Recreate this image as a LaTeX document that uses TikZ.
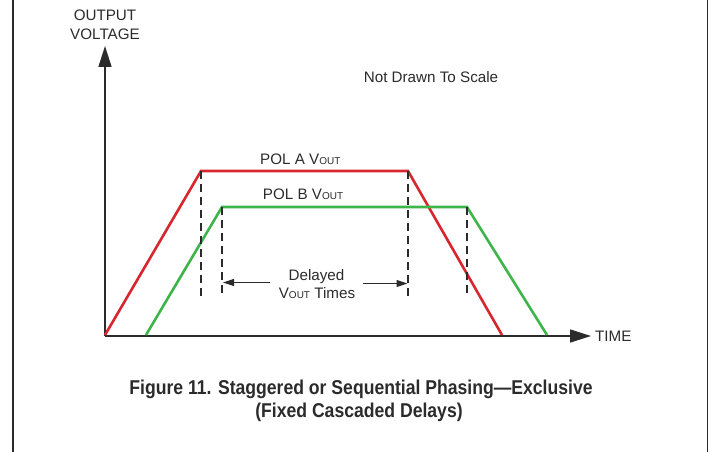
\documentclass[tikz,border=0pt]{standalone}
\usepackage{fontspec}
\setmainfont{Liberation Sans}
\newfontfamily\capfont[FakeStretch=0.88]{Liberation Sans}
\usetikzlibrary{arrows.meta}
\definecolor{polred}{HTML}{D7262D}
\definecolor{polgreen}{HTML}{3DB54A}
\definecolor{axisgray}{HTML}{2B2B2B}
\newcommand{\vout}{V{\fontsize{10}{11}\selectfont OUT}}
\tikzset{
  frameline/.style={draw=axisgray, line width=1.6pt},
  axisline/.style={draw=axisgray, line width=1.6pt, -{Triangle[length=21pt,width=13pt]}},
  redtrace/.style={draw=polred, line width=2.6pt, line join=miter},
  greentrace/.style={draw=polgreen, line width=2.6pt, line join=miter},
  dashline/.style={draw=axisgray, line width=1.3pt, dash pattern=on 8pt off 5pt},
  dimarrow/.style={draw=axisgray, line width=1pt, -{Triangle[length=11pt,width=7pt]}},
  lbl/.style={font=\fontsize{15.2}{18}\selectfont, text=axisgray, inner sep=0pt},
  caption/.style={font=\capfont\bfseries\fontsize{20}{24}\selectfont, text=axisgray, align=center, inner sep=0pt}
}
\begin{document}
\begin{tikzpicture}[x=1pt,y=-1pt]
\useasboundingbox (0,0) rectangle (712,452);
% page frame
\coordinate (ftl) at (13,0); \coordinate (fbl) at (13,452);
\coordinate (ftr) at (707.5,0); \coordinate (fbr) at (707.5,452);
\draw[frameline] (ftl) -- (fbl);
\draw[frameline] (ftr) -- (fbr);
% axes
\coordinate (origin) at (105,336);
\coordinate (ytip) at (105,46);
\coordinate (xtip) at (591,336);
\draw[axisline] (origin) -- (ytip);
\draw[axisline] (origin) -- (xtip);
% traces
\coordinate (a0) at (105,335); \coordinate (a1) at (201,171);
\coordinate (a2) at (408,171); \coordinate (a3) at (502,335);
\coordinate (b0) at (146,335); \coordinate (b1) at (222,207);
\coordinate (b2) at (467,207); \coordinate (b3) at (547,335);
\draw[redtrace] (a0) -- (a1) -- (a2) -- (a3);
\draw[greentrace] (b0) -- (b1) -- (b2) -- (b3);
% dashed markers
\coordinate (d1) at (201,297); \coordinate (d2) at (222,297);
\coordinate (d3) at (408,297); \coordinate (d4) at (467,297);
\draw[dashline] (a1) -- (d1);
\draw[dashline] (b1) -- (d2);
\draw[dashline] (a2) -- (d3);
\draw[dashline] (b2) -- (d4);
% delayed arrows
\coordinate (la) at (270,282.5); \coordinate (lt) at (223,282.5);
\coordinate (ra) at (363,283.5); \coordinate (rt) at (407.5,283.5);
\draw[dimarrow] (la) -- (lt);
\draw[dimarrow] (ra) -- (rt);
% labels
\node[lbl, anchor=base] (ylab1) at (105,20.7) {OUTPUT};
\node[lbl, anchor=base] (ylab2) at (105,40) {VOLTAGE};
\node[lbl, anchor=base] (note) at (431,82) {Not Drawn To Scale};
\node[lbl, anchor=base west] (polA) at (260,164) {POL A \vout};
\node[lbl, anchor=base west] (polB) at (262.7,199.3) {POL B \vout};
\node[lbl, anchor=base] (del1) at (316.5,280) {Delayed};
\node[lbl, anchor=base] (del2) at (317,298.7) {\vout\ Times};
\node[lbl, anchor=base west] (time) at (595,341.7) {TIME};
\node[caption, anchor=base] (cap1) at (361,394.3) {Figure 11. Staggered or Sequential Phasing—Exclusive};
\node[caption, anchor=base] (cap2) at (359,417.8) {(Fixed Cascaded Delays)};
\end{tikzpicture}
\end{document}
